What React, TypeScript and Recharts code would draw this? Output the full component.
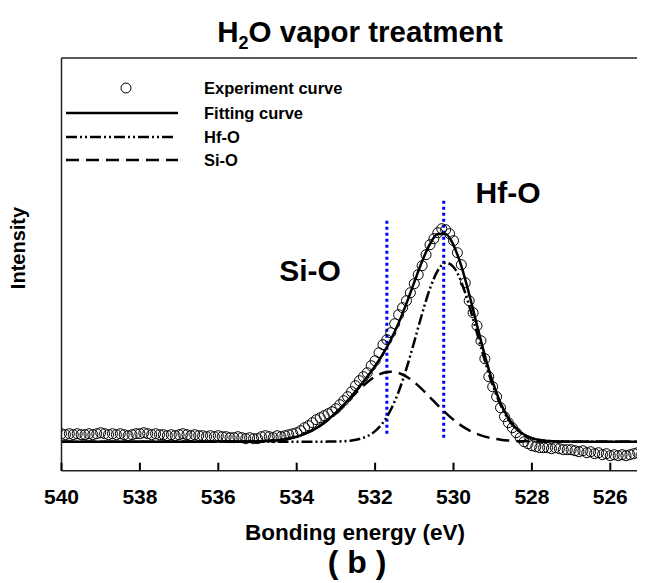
import React from 'react';
import { ComposedChart, XAxis, YAxis, Line, Scatter, ReferenceLine } from 'recharts';

const expEnergy = [
  540.0, 539.9, 539.8, 539.7, 539.6, 539.5, 539.4, 539.3, 539.2, 539.1,
  539.0, 538.9, 538.8, 538.7, 538.6, 538.5, 538.4, 538.3, 538.2, 538.1,
  538.0, 537.9, 537.8, 537.7, 537.6, 537.5, 537.4, 537.3, 537.2, 537.1,
  537.0, 536.9, 536.8, 536.7, 536.6, 536.5, 536.4, 536.3, 536.2, 536.1,
  536.0, 535.9, 535.8, 535.7, 535.6, 535.5, 535.4, 535.3, 535.2, 535.1,
  535.0, 534.9, 534.8, 534.7, 534.6, 534.5, 534.4, 534.3, 534.2, 534.1,
  534.0, 533.9, 533.8, 533.7, 533.6, 533.5, 533.4, 533.3, 533.2, 533.1,
  533.0, 532.9, 532.8, 532.7, 532.6, 532.5, 532.4, 532.3, 532.2, 532.1,
  532.0, 531.9, 531.8, 531.7, 531.6, 531.5, 531.4, 531.3, 531.2, 531.1,
  531.0, 530.9, 530.8, 530.7, 530.6, 530.5, 530.4, 530.3, 530.2, 530.1,
  530.0, 529.9, 529.8, 529.7, 529.6, 529.5, 529.4, 529.3, 529.2, 529.1,
  529.0, 528.9, 528.8, 528.7, 528.6, 528.5, 528.4, 528.3, 528.2, 528.1,
  528.0, 527.9, 527.8, 527.7, 527.6, 527.5, 527.4, 527.3, 527.2, 527.1,
  527.0, 526.9, 526.8, 526.7, 526.6, 526.5, 526.4, 526.3, 526.2, 526.1,
  526.0, 525.9, 525.8, 525.7, 525.6, 525.5, 525.4, 525.3, 525.2, 525.1,
];

const expIntensity = [
  37, 36, 37, 36, 37, 36, 36, 37, 36, 37,
  38, 37, 36, 37, 36, 37, 36, 35, 36, 37,
  37, 38, 37, 36, 37, 36, 36, 35, 36, 35,
  36, 37, 36, 35, 36, 35, 35, 34, 35, 34,
  35, 34, 34, 33, 33, 34, 33, 32, 33, 32,
  32, 34, 35, 34, 33, 35, 34, 35, 36, 37,
  38, 40, 43, 45, 48, 51, 53, 55, 57, 59,
  62, 66, 70, 74, 79, 85, 90, 94, 98, 105,
  110, 118, 126, 131, 138, 147, 156, 163, 170, 178,
  187, 196, 205, 216, 226, 232, 238, 242, 241, 237,
  230, 218, 206, 188, 170, 158, 145, 130, 112, 94,
  84, 74, 63, 54, 48, 43, 38, 33, 29, 27,
  25, 24, 23, 23, 23, 22, 23, 22, 21, 21,
  21, 20, 19, 20, 18, 19, 17, 18, 16, 17,
  15, 16, 15, 16, 15, 16, 17, 18, 16, 17,
];

const fitEnergy = [
  540, 539, 538, 537, 536, 535.4, 535.0, 534.6, 534.4, 534.2,
  534.0, 533.8, 533.6, 533.4, 533.2, 533.0, 532.8, 532.6, 532.4, 532.2,
  532.0, 531.8, 531.6, 531.4, 531.2, 531.0, 530.8, 530.6, 530.4, 530.2,
  530.0, 529.8, 529.6, 529.4, 529.2, 529.0, 528.8, 528.6, 528.4, 528.2,
  528.0, 527.8, 527.6, 527.2, 526.6, 526, 525,
];

const fitIntensity = [
  29, 29, 29, 29, 29.1, 29.1, 29.4, 30.2, 31.0, 32.3,
  34.1, 36.8, 40.4, 45.1, 51.0, 58.0, 65.9, 74.7, 84.1, 94.0,
  104.7, 116.7, 130.9, 147.7, 167.3, 188.6, 209.5, 226.7, 236.6, 236.8,
  225.6, 204.6, 176.5, 145.4, 115.1, 88.7, 67.8, 52.6, 42.4, 36.2,
  32.6, 30.7, 29.7, 29.1, 29, 29, 29,
];

const hfoIntensity = [
  29, 29, 29, 29, 29, 29, 29, 29, 29, 29,
  29, 29, 29, 29, 29.1, 29.2, 29.5, 30.2, 31.7, 34.5,
  39.6, 48.0, 60.9, 79.0, 102.2, 129.1, 157.1, 182.2, 200.2, 208.0,
  203.7, 188.5, 165.1, 137.6, 110.0, 85.4, 65.8, 51.4, 41.7, 35.8,
  32.4, 30.6, 29.7, 29.1, 29, 29, 29,
];

const sioIntensity = [
  29, 29, 29, 29, 29.1, 29.1, 29.4, 30.2, 31.0, 32.3,
  34.1, 36.8, 40.4, 45.1, 50.9, 57.8, 65.4, 73.5, 81.4, 88.5,
  94.1, 97.7, 99.0, 97.7, 94.1, 88.5, 81.4, 73.5, 65.4, 57.8,
  50.9, 45.1, 40.4, 36.8, 34.1, 32.3, 31.0, 30.2, 29.7, 29.4,
  29.2, 29.1, 29, 29, 29, 29, 29,
];

const xTicks = [540, 538, 536, 534, 532, 530, 528, 526];

const markerLines = [
  { e: 531.7, from: 37, to: 252 },
  { e: 530.25, from: 33, to: 270 },
];

const Y_MAX = 412.7;

const expData = expEnergy.map((e, i) => ({ e, v: expIntensity[i] }));
const fitData = fitEnergy.map((e, i) => ({ e, v: fitIntensity[i] }));
const hfoData = fitEnergy.map((e, i) => ({ e, v: hfoIntensity[i] }));
const sioData = fitEnergy.map((e, i) => ({ e, v: sioIntensity[i] }));

const FONT = '"Liberation Sans", Arial, sans-serif';
const AXIS = '#222';

const HfDash = '11 3 2 3 2 3';
const SiDash = '13 7';

const Tick = (props: any) => {
  const { x, y, payload } = props;
  return (
    <g>
      <rect x={x - 1} y={y - 8} width={2} height={8} fill="#000" />
      <text x={x} y={y + 33} textAnchor="middle" fontFamily={FONT} fontWeight="bold" fontSize={21} fill="#000">
        {payload.value}
      </text>
    </g>
  );
};

const Circle = (props: any) => {
  const { cx, cy } = props;
  return <circle cx={cx} cy={cy} r={5} fill="none" stroke="#000" strokeWidth={1} />;
};

export default function App() {
  return (
    <div style={{ position: 'relative', width: 637, height: 575, overflow: 'hidden' }}>
      <ComposedChart width={660} height={575} margin={{ top: 50, right: 18.5, bottom: 72.3, left: 0 }}>
        <XAxis
          type="number"
          dataKey="e"
          domain={[525, 540]}
          reversed
          ticks={xTicks}
          allowDataOverflow
          height={40}
          tickSize={0}
          tickMargin={0}
          tickLine={false}
          axisLine={{ stroke: AXIS, strokeWidth: 1.5 }}
          tick={<Tick />}
        />
        <YAxis
          type="number"
          dataKey="v"
          domain={[0, Y_MAX]}
          width={53.5}
          tick={false}
          tickLine={false}
          axisLine={{ stroke: AXIS, strokeWidth: 1.5 }}
        />
        <ReferenceLine y={Y_MAX} stroke={AXIS} strokeWidth={1.5} ifOverflow="visible" />
        {markerLines.map((m) => (
          <ReferenceLine
            key={m.e}
            segment={[{ x: m.e, y: m.from }, { x: m.e, y: m.to }]}
            stroke="#0000ff"
            strokeWidth={3}
            strokeDasharray="3 3"
          />
        ))}
        <Scatter data={expData} dataKey="v" shape={<Circle />} isAnimationActive={false} />
        <Line data={sioData} dataKey="v" type="monotone" stroke="#000" strokeWidth={2.5} strokeDasharray={SiDash} dot={false} isAnimationActive={false} />
        <Line data={hfoData} dataKey="v" type="monotone" stroke="#000" strokeWidth={2.5} strokeDasharray={HfDash} dot={false} isAnimationActive={false} />
        <Line data={fitData} dataKey="v" type="monotone" stroke="#000" strokeWidth={2.5} dot={false} isAnimationActive={false} />
      </ComposedChart>
      <svg width={637} height={575} style={{ position: 'absolute', left: 0, top: 0, pointerEvents: 'none' }}>
        <g fontFamily={FONT} fontWeight="bold" fill="#000">
          <text x={352} y={34} textAnchor="middle" fontSize={29.5}>
            <tspan>H</tspan>
            <tspan fontSize={18} dy={7}>2</tspan>
            <tspan dy={-7}>O vapor treatment</tspan>
          </text>
          <circle cx={118} cy={80} r={5} fill="none" stroke="#000" strokeWidth={1} />
          <line x1={58} y1={105} x2={170} y2={105} stroke="#000" strokeWidth={2.5} />
          <line x1={58} y1={129} x2={165} y2={129} stroke="#000" strokeWidth={2.5} strokeDasharray={HfDash} />
          <line x1={58} y1={152} x2={170} y2={152} stroke="#000" strokeWidth={2.5} strokeDasharray={SiDash} />
          <text x={196} y={86} fontSize={16.5}>Experiment curve</text>
          <text x={196} y={111} fontSize={16.5}>Fitting curve</text>
          <text x={196} y={135} fontSize={16.5}>Hf-O</text>
          <text x={196} y={158} fontSize={16.5}>Si-O</text>
          <text x={302} y={273} textAnchor="middle" fontSize={30}>Si-O</text>
          <text x={500} y={195} textAnchor="middle" fontSize={30}>Hf-O</text>
          <text x={347} y={532} textAnchor="middle" fontSize={22.5}>Bonding energy (eV)</text>
          <text x={349} y={565} textAnchor="middle" fontSize={32}>( b )</text>
          <text x={17} y={240} textAnchor="middle" fontSize={20} transform="rotate(-90 17 240)">Intensity</text>
        </g>
      </svg>
    </div>
  );
}
